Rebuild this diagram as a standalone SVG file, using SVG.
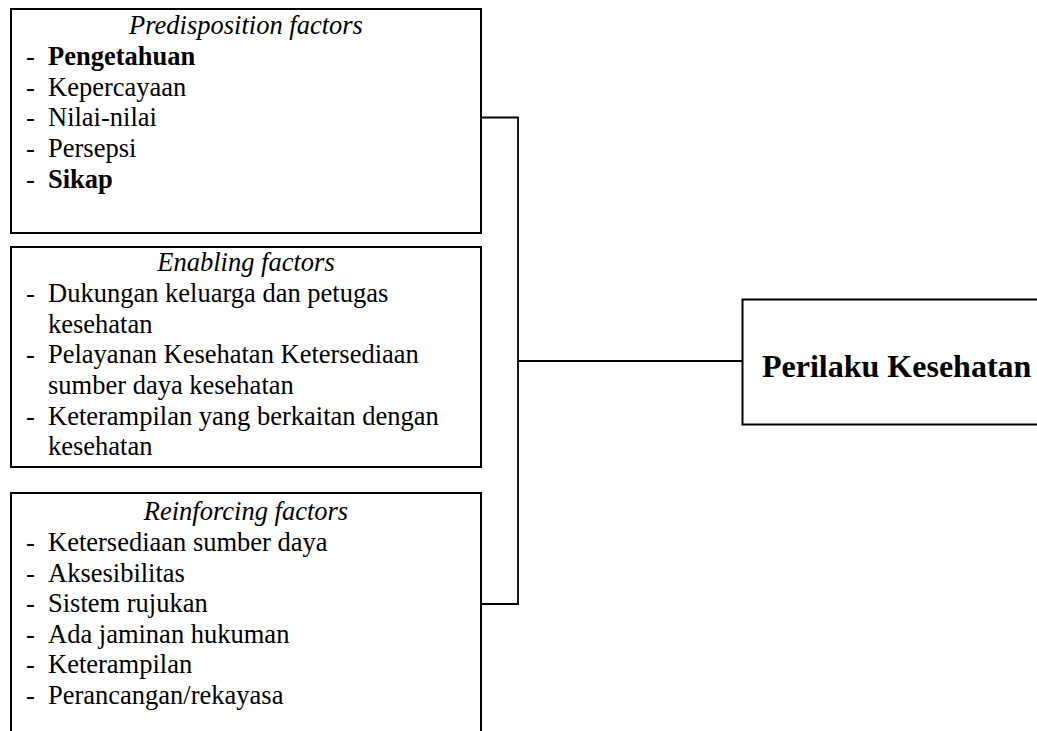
<svg xmlns="http://www.w3.org/2000/svg" width="1037" height="731" viewBox="0 0 1037 731">
<style>
.box{fill:#fff;stroke:#000;stroke-width:2}
.con{fill:none;stroke:#000;stroke-width:1.8}
text{font-family:"Liberation Serif","Times New Roman",serif;font-size:26.5px;fill:#000}
.t{font-style:italic;text-anchor:middle}
.b{font-weight:bold}
.main{font-weight:bold;font-size:32px}
</style>
<rect width="1037" height="731" fill="#fff"/>
<g id="connectors">
<polyline class="con" points="481,117.5 518,117.5 518,604 481,604"/>
<line class="con" x1="518" y1="361" x2="742" y2="361"/>
</g>
<g id="predisposition">
<rect class="box" x="11" y="9" width="470" height="224"/>
<text class="t" x="246" y="34">Predisposition factors</text>
<text x="26" y="65">-</text><text class="b" x="48" y="65">Pengetahuan</text>
<text x="26" y="95.7">-</text><text x="48" y="95.7">Kepercayaan</text>
<text x="26" y="126.4">-</text><text x="48" y="126.4">Nilai-nilai</text>
<text x="26" y="157">-</text><text x="48" y="157">Persepsi</text>
<text x="26" y="187.6">-</text><text class="b" x="48" y="187.6">Sikap</text>
</g>
<g id="enabling">
<rect class="box" x="11" y="247" width="470" height="220"/>
<text class="t" x="246" y="271">Enabling factors</text>
<text x="26" y="302">-</text><text x="48" y="302">Dukungan keluarga dan petugas</text>
<text x="48" y="332.7">kesehatan</text>
<text x="26" y="363.4">-</text><text x="48" y="363.4">Pelayanan Kesehatan Ketersediaan</text>
<text x="48" y="394">sumber daya kesehatan</text>
<text x="26" y="424.7">-</text><text x="48" y="424.7">Keterampilan yang berkaitan dengan</text>
<text x="48" y="455.4">kesehatan</text>
</g>
<g id="reinforcing">
<path class="box" d="M11,740 V493 H481 V740"/>
<text class="t" x="246" y="520">Reinforcing factors</text>
<text x="26" y="551">-</text><text x="48" y="551">Ketersediaan sumber daya</text>
<text x="26" y="581.5">-</text><text x="48" y="581.5">Aksesibilitas</text>
<text x="26" y="612">-</text><text x="48" y="612">Sistem rujukan</text>
<text x="26" y="642.5">-</text><text x="48" y="642.5">Ada jaminan hukuman</text>
<text x="26" y="673">-</text><text x="48" y="673">Keterampilan</text>
<text x="26" y="703.5">-</text><text x="48" y="703.5">Perancangan/rekayasa</text>
</g>
<g id="perilaku">
<rect class="box" x="742.5" y="299.5" width="310" height="125"/>
<text class="main" x="762" y="377">Perilaku Kesehatan</text>
</g>
</svg>
